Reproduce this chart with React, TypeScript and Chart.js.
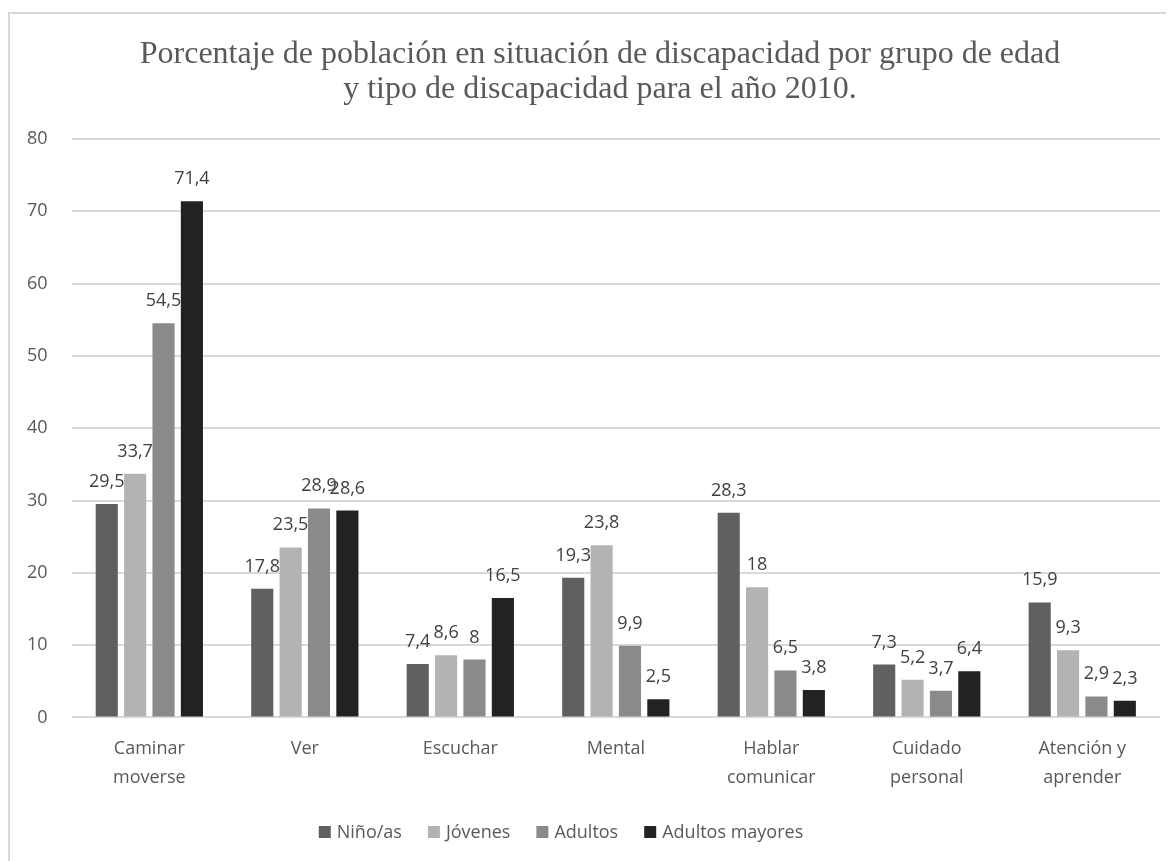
import React, { useEffect, useRef } from "react";
import { Chart, registerables } from "chart.js";

Chart.register(...registerables);

const categories: string[][] = [
  ["Caminar", "moverse"],
  ["Ver"],
  ["Escuchar"],
  ["Mental"],
  ["Hablar", "comunicar"],
  ["Cuidado", "personal"],
  ["Atención y", "aprender"],
];

const seriesNames = ["Niño/as", "Jóvenes", "Adultos", "Adultos mayores"];
const ninos = [29.5, 17.8, 7.4, 19.3, 28.3, 7.3, 15.9];
const jovenes = [33.7, 23.5, 8.6, 23.8, 18, 5.2, 9.3];
const adultos = [54.5, 28.9, 8, 9.9, 6.5, 3.7, 2.9];
const mayores = [71.4, 28.6, 16.5, 2.5, 3.8, 6.4, 2.3];
const seriesColors = ["#606060", "#b3b3b3", "#8a8a8a", "#222222"];

const titleLines = [
  "Porcentaje de población en situación de discapacidad por grupo de edad",
  "y tipo de discapacidad para el año 2010.",
];

const yMax = 80;
const yStep = 10;

const FONT = "'Open Sans', sans-serif";
const TITLE_FONT = "32px 'Liberation Serif', 'Times New Roman', serif";

const valueLabels = {
  id: "valueLabels",
  afterDatasetsDraw(chart: any) {
    const ctx = chart.ctx;
    ctx.save();
    ctx.font = `18px ${FONT}`;
    ctx.fillStyle = "#404040";
    ctx.textAlign = "center";
    ctx.textBaseline = "alphabetic";
    chart.data.datasets.forEach((ds: any, i: number) => {
      const meta = chart.getDatasetMeta(i);
      meta.data.forEach((el: any, j: number) => {
        const v = ds.data[j];
        const txt = String(v).replace(".", ",");
        ctx.fillText(txt, el.x, el.y - 17);
      });
    });
    ctx.restore();
  },
};

const titleAndLegend = {
  id: "titleAndLegend",
  afterDraw(chart: any) {
    const ctx = chart.ctx;
    ctx.save();
    // title
    ctx.font = TITLE_FONT;
    ctx.fillStyle = "#595959";
    ctx.textAlign = "center";
    ctx.textBaseline = "alphabetic";
    const tx = chart.width / 2 + 8;
    ctx.fillText(titleLines[0], tx, 49);
    ctx.fillText(titleLines[1], tx, 84);
    // legend
    ctx.font = `18px ${FONT}`;
    ctx.textAlign = "left";
    ctx.textBaseline = "middle";
    const box = 12;
    const gapBoxText = 6;
    const gapItems = 26;
    const widths = chart.data.datasets.map((ds: any) => ctx.measureText(ds.label).width);
    const total =
      widths.reduce((a: number, w: number) => a + box + gapBoxText + w, 0) +
      gapItems * (widths.length - 1);
    const cy = chart.height - 29;
    let x = chart.width / 2 - 31 - total / 2;
    chart.data.datasets.forEach((ds: any, i: number) => {
      ctx.fillStyle = ds.backgroundColor;
      ctx.fillRect(x, cy - box / 2, box, box);
      x += box + gapBoxText;
      ctx.fillStyle = "#595959";
      ctx.fillText(ds.label, x, cy + 1);
      x += widths[i] + gapItems;
    });
    ctx.restore();
  },
};

export default function App() {
  const ref = useRef<HTMLCanvasElement | null>(null);
  useEffect(() => {
    if (!ref.current) return;
    const allSeries = [ninos, jovenes, adultos, mayores];
    const chart = new Chart(ref.current, {
      type: "bar",
      data: {
        labels: categories,
        datasets: allSeries.map((d, i) => ({
          label: seriesNames[i],
          data: d,
          backgroundColor: seriesColors[i],
          borderWidth: 0,
          categoryPercentage: 0.73,
          barPercentage: 0.78,
        })),
      },
      options: {
        animation: false,
        responsive: true,
        maintainAspectRatio: false,
        layout: { padding: { left: -7, right: 14, top: 125, bottom: 60 } },
        plugins: {
          title: { display: false },
          legend: { display: false },
          tooltip: { enabled: false },
        },
        scales: {
          x: {
            grid: { display: false },
            border: { display: false },
            ticks: {
              color: "#595959",
              font: { family: FONT, size: 18, lineHeight: 1.6 },
              maxRotation: 0,
              autoSkip: false,
              padding: 9,
            },
          },
          y: {
            min: 0,
            max: yMax,
            grid: { color: "#d9d9d9", lineWidth: 2, drawTicks: false },
            border: { display: false },
            ticks: {
              stepSize: yStep,
              color: "#595959",
              font: { family: FONT, size: 18 },
              padding: 24,
            },
          },
        },
      },
      plugins: [valueLabels, titleAndLegend],
    });
    return () => chart.destroy();
  }, []);

  return (
    <div style={{ paddingTop: 4 }}>
      <div
        style={{
          borderLeft: "2px solid #d9d9d9",
          borderTop: "2px solid #d9d9d9",
          width: 1164,
          height: 847,
          position: "relative",
          background: "#fff",
        }}
      >
        <canvas ref={ref} />
      </div>
    </div>
  );
}
